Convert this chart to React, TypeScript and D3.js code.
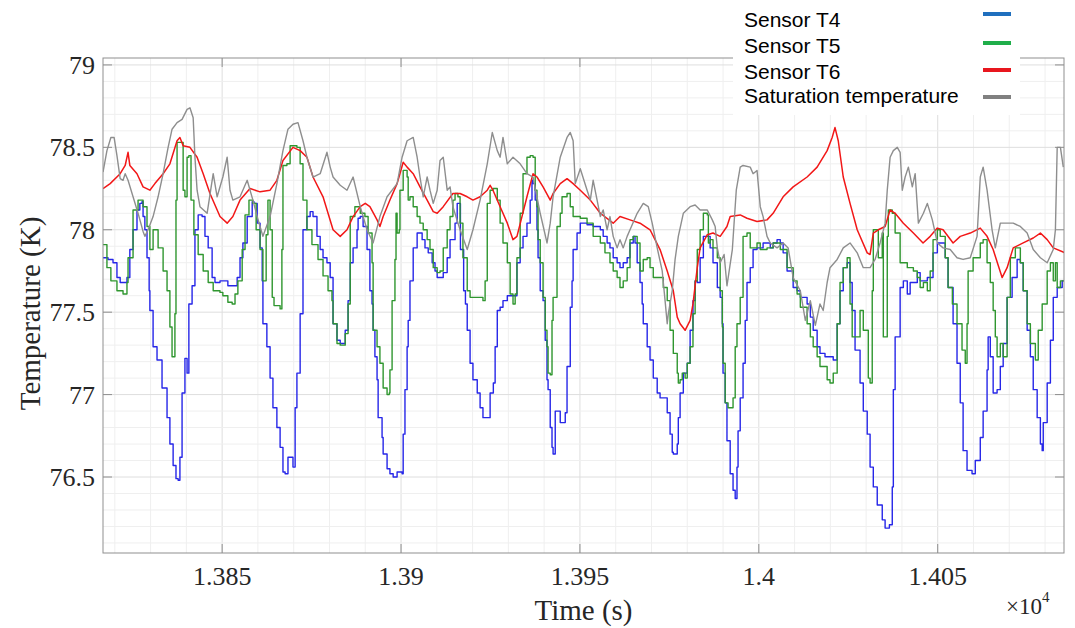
import React from 'react';
import * as d3 from 'd3';

const W = 1075, H = 628;
const xTicks = [13850, 13900, 13950, 14000, 14050];
const xTickLabels = ['1.385', '1.39', '1.395', '1.4', '1.405'];
const yTicks = [76.5, 77, 77.5, 78, 78.5, 79];
const yTickLabels = ['76.5', '77', '77.5', '78', '78.5', '79'];
const seriesNames = ['Sensor T4', 'Sensor T5', 'Sensor T6', 'Saturation temperature'];
const legendColors = ['#1f6fbe', '#1fae4a', '#e8161e', '#808080'];
const lineColors = ['#2626e8', '#2f962f', '#f21717', '#8e8e8e'];

const sensorT4: [number, number][] = [[13816.7,77.83],[13818.1,77.82],[13819.5,77.80],[13820.6,77.71],[13821.5,77.68],[13823.4,77.71],[13824.2,77.88],[13825.1,78.00],[13826.2,78.12],[13827.0,78.16],[13827.6,78.17],[13827.9,78.08],[13828.4,78.00],[13829.0,77.83],[13829.6,77.63],[13829.8,77.51],[13830.7,77.29],[13831.8,77.21],[13833.2,77.04],[13834.6,76.86],[13835.4,76.70],[13836.3,76.57],[13837.1,76.49],[13837.7,76.48],[13838.2,76.62],[13838.8,77.01],[13839.6,77.22],[13840.2,77.13],[13840.7,77.55],[13841.6,77.66],[13842.4,78.00],[13843.3,78.09],[13844.4,78.08],[13845.2,77.96],[13846.1,77.89],[13847.2,77.71],[13848.0,77.68],[13849.4,77.69],[13851.6,77.66],[13854.2,77.71],[13855.0,77.83],[13855.8,77.92],[13857.0,78.08],[13858.4,78.17],[13858.9,78.16],[13859.8,78.04],[13860.6,77.89],[13861.2,77.69],[13861.4,77.43],[13862.5,77.29],[13863.4,77.10],[13864.2,76.92],[13865.3,76.80],[13866.2,76.68],[13867.0,76.53],[13867.6,76.52],[13868.4,76.62],[13869.5,76.62],[13869.8,76.56],[13870.4,76.92],[13870.9,77.13],[13871.8,77.49],[13872.6,78.00],[13873.7,78.08],[13874.6,78.11],[13875.4,78.08],[13876.5,77.96],[13877.4,77.88],[13878.2,77.83],[13879.3,77.80],[13880.2,77.71],[13881.0,77.43],[13882.1,77.33],[13883.0,77.31],[13884.4,77.39],[13885.2,77.57],[13885.8,77.80],[13886.6,77.89],[13887.7,78.00],[13888.0,78.07],[13888.6,78.08],[13889.4,78.02],[13890.5,77.88],[13891.3,77.63],[13891.9,77.55],[13892.2,77.39],[13892.7,77.23],[13893.3,77.09],[13893.6,76.86],[13894.7,76.74],[13895.0,76.64],[13896.1,76.55],[13896.9,76.52],[13897.8,76.50],[13898.9,76.53],[13900.3,76.52],[13900.6,76.76],[13901.1,77.03],[13901.7,77.29],[13902.0,77.45],[13902.5,77.69],[13903.4,77.89],[13904.5,77.98],[13905.3,77.98],[13905.9,77.94],[13906.7,77.89],[13907.6,77.86],[13908.7,77.80],[13909.5,77.75],[13910.1,77.71],[13910.9,77.71],[13911.8,77.74],[13912.9,77.83],[13913.7,77.94],[13915.1,78.04],[13915.7,78.16],[13916.6,77.88],[13917.5,77.63],[13918.0,77.55],[13918.5,77.39],[13919.3,77.19],[13920.1,77.09],[13921.3,77.01],[13922.1,76.92],[13922.9,76.86],[13924.1,76.86],[13924.9,77.01],[13925.8,77.07],[13926.3,77.29],[13926.9,77.51],[13927.7,77.53],[13928.5,77.57],[13929.7,77.60],[13931.3,77.60],[13932.4,77.80],[13933.3,77.89],[13934.1,77.96],[13935.2,78.04],[13936.1,78.18],[13936.6,78.30],[13936.9,78.28],[13937.5,78.18],[13938.0,78.00],[13938.3,77.83],[13938.9,77.63],[13939.7,77.57],[13940.3,77.33],[13940.8,77.09],[13941.1,77.03],[13941.7,76.80],[13942.2,76.68],[13942.5,76.64],[13943.1,76.90],[13943.9,76.90],[13944.5,76.83],[13945.3,76.83],[13945.9,76.89],[13946.4,77.17],[13947.3,77.53],[13947.8,77.69],[13948.1,77.88],[13949.2,77.98],[13950.1,78.04],[13952.0,78.03],[13953.7,78.02],[13955.7,78.00],[13956.5,77.96],[13957.6,77.92],[13958.4,77.89],[13959.3,77.83],[13960.4,77.80],[13961.2,77.77],[13962.1,77.80],[13963.2,77.83],[13964.0,77.92],[13964.9,77.96],[13965.4,77.92],[13966.0,77.80],[13966.8,77.68],[13967.4,77.55],[13967.7,77.43],[13968.8,77.29],[13969.6,77.21],[13970.5,77.10],[13971.6,77.01],[13972.4,76.98],[13973.8,76.98],[13974.4,76.89],[13975.2,76.76],[13975.8,76.65],[13976.1,76.64],[13977.2,76.70],[13977.5,76.86],[13978.0,77.01],[13978.9,77.13],[13980.0,77.19],[13980.8,77.39],[13981.6,77.57],[13982.2,77.69],[13982.8,77.68],[13983.6,77.83],[13984.5,77.96],[13985.6,77.96],[13986.4,77.89],[13987.2,77.80],[13988.4,77.65],[13989.2,77.59],[13989.8,77.43],[13990.0,77.13],[13990.6,76.95],[13991.1,76.72],[13992.0,76.52],[13992.8,76.42],[13993.4,76.37],[13993.9,76.56],[13994.2,76.78],[13994.8,76.98],[13995.6,77.19],[13996.2,77.45],[13996.7,77.68],[13997.6,77.77],[13998.4,77.88],[13999.5,77.89],[14001.2,77.92],[14003.2,77.89],[14004.0,77.92],[14005.1,77.94],[14006.0,77.92],[14006.8,77.86],[14007.9,77.75],[14009.6,77.65],[14010.7,77.63],[14011.6,77.59],[14013.5,77.55],[14014.4,77.47],[14015.2,77.39],[14016.3,77.29],[14017.1,77.25],[14018.5,77.23],[14020.8,77.21],[14021.9,77.43],[14022.7,77.63],[14023.6,77.77],[14024.7,77.80],[14025.5,77.68],[14026.1,77.51],[14026.9,77.27],[14028.3,77.07],[14029.2,76.90],[14030.3,76.76],[14031.1,76.56],[14032.0,76.44],[14033.1,76.33],[14034.5,76.24],[14035.3,76.19],[14036.5,76.21],[14037.3,76.44],[14037.6,77.03],[14038.1,77.35],[14039.5,77.65],[14040.4,77.69],[14041.5,77.61],[14042.3,77.68],[14044.3,77.74],[14045.1,77.69],[14047.1,77.71],[14048.7,77.86],[14049.9,77.92],[14050.7,77.92],[14052.1,77.83],[14052.9,77.65],[14054.3,77.43],[14055.4,77.19],[14056.3,76.95],[14057.1,76.66],[14058.2,76.54],[14059.6,76.52],[14060.5,76.60],[14061.9,76.74],[14062.7,76.90],[14063.8,77.15],[14064.1,77.35],[14064.7,77.23],[14065.5,77.01],[14066.6,77.03],[14067.5,77.17],[14068.3,77.31],[14069.4,77.59],[14070.8,77.71],[14072.2,77.82],[14073.1,77.80],[14073.9,77.63],[14075.0,77.39],[14075.9,77.23],[14076.7,77.03],[14077.8,76.86],[14078.7,76.70],[14079.2,76.66],[14079.5,76.83],[14080.6,77.07],[14081.5,77.33],[14082.3,77.59],[14083.4,77.65],[14084.8,77.69],[14085.6,77.71]];

const sensorT5: [number, number][] = [[13816.7,77.91],[13817.8,77.77],[13818.9,77.69],[13820.6,77.63],[13822.3,77.61],[13823.4,77.68],[13823.7,77.83],[13825.1,78.12],[13826.5,78.18],[13827.9,78.14],[13829.0,78.02],[13829.8,77.88],[13830.7,78.00],[13832.1,77.89],[13833.5,77.75],[13834.6,77.63],[13835.4,77.41],[13836.0,77.23],[13836.6,77.23],[13836.8,77.49],[13837.1,78.18],[13837.4,78.53],[13838.5,78.53],[13839.1,78.24],[13839.6,78.20],[13840.2,78.44],[13840.7,78.45],[13841.3,78.18],[13842.1,77.97],[13843.3,77.85],[13844.7,77.75],[13846.1,77.68],[13847.5,77.63],[13849.4,77.62],[13850.2,77.60],[13851.6,77.56],[13852.8,77.55],[13853.6,77.61],[13854.4,77.69],[13855.6,77.88],[13856.4,78.09],[13857.5,78.18],[13858.6,78.16],[13859.5,78.00],[13860.6,77.88],[13861.4,77.69],[13862.3,77.97],[13862.8,78.18],[13863.4,78.00],[13864.0,77.59],[13864.5,77.54],[13866.2,77.52],[13866.7,77.88],[13867.0,78.39],[13868.1,78.40],[13869.0,78.51],[13870.9,78.50],[13871.8,78.40],[13872.6,78.18],[13873.7,78.00],[13875.1,77.91],[13876.8,77.82],[13878.2,77.72],[13879.6,77.63],[13880.7,77.57],[13881.0,77.43],[13882.1,77.31],[13883.0,77.30],[13884.4,77.37],[13885.2,77.55],[13885.8,78.08],[13887.1,78.14],[13888.6,78.10],[13889.9,78.08],[13890.8,77.98],[13891.9,77.80],[13892.2,77.39],[13893.3,77.29],[13894.1,77.19],[13895.0,77.04],[13896.1,77.00],[13896.7,77.01],[13896.9,77.15],[13897.5,77.57],[13898.3,77.82],[13898.6,78.10],[13898.9,77.98],[13899.5,78.00],[13899.7,78.24],[13900.6,78.36],[13901.7,78.32],[13902.0,78.18],[13902.5,78.20],[13903.4,78.14],[13904.5,78.08],[13905.3,78.04],[13906.2,78.00],[13907.3,77.94],[13908.1,77.88],[13909.0,77.77],[13910.1,77.74],[13910.9,77.75],[13911.8,77.89],[13912.9,78.00],[13913.7,78.08],[13914.5,78.18],[13915.1,78.22],[13915.9,78.20],[13916.5,78.04],[13917.3,77.83],[13918.5,77.63],[13919.3,77.59],[13921.3,77.59],[13922.9,77.57],[13923.5,77.69],[13924.1,78.16],[13924.9,78.24],[13925.7,78.25],[13926.9,78.18],[13927.7,78.04],[13928.5,77.92],[13929.7,77.80],[13930.5,77.61],[13931.3,77.55],[13931.9,77.61],[13932.4,77.83],[13933.3,78.10],[13934.1,78.34],[13935.2,78.44],[13936.1,78.45],[13936.9,78.44],[13937.5,78.24],[13938.0,78.14],[13938.3,77.94],[13938.9,77.80],[13939.7,77.59],[13940.3,77.39],[13940.8,77.29],[13941.1,77.13],[13941.7,77.12],[13942.2,77.45],[13942.5,77.59],[13943.6,78.02],[13944.5,78.10],[13945.0,78.20],[13946.4,78.22],[13947.3,78.14],[13948.1,78.08],[13950.1,78.07],[13952.0,78.04],[13953.7,77.96],[13955.7,77.92],[13957.0,77.86],[13958.4,77.80],[13959.3,77.75],[13960.4,77.71],[13961.2,77.65],[13962.1,77.69],[13963.2,77.77],[13964.0,77.94],[13964.9,77.96],[13966.0,77.92],[13966.8,77.75],[13967.7,77.82],[13968.8,77.83],[13969.6,77.77],[13970.5,77.71],[13972.4,77.71],[13973.3,77.65],[13974.4,77.57],[13975.2,77.39],[13976.1,77.25],[13977.2,77.13],[13977.5,77.07],[13978.0,77.09],[13978.6,77.13],[13979.4,77.10],[13980.0,77.19],[13980.8,77.29],[13981.6,77.49],[13982.2,77.69],[13982.8,77.88],[13983.6,78.00],[13984.5,78.10],[13985.6,78.09],[13985.9,77.92],[13986.4,77.94],[13987.2,77.89],[13988.4,77.83],[13989.2,77.63],[13989.8,77.41],[13990.0,77.19],[13990.6,76.95],[13991.4,76.92],[13992.6,76.92],[13992.8,76.98],[13993.4,77.29],[13993.9,77.43],[13994.8,77.59],[13995.6,77.96],[13996.7,77.98],[13997.6,77.89],[13999.5,77.92],[14000.4,77.88],[14002.3,77.89],[14004.0,77.92],[14006.0,77.88],[14007.9,77.77],[14009.6,77.69],[14010.7,77.61],[14011.6,77.53],[14013.5,77.43],[14014.4,77.35],[14015.2,77.29],[14016.3,77.23],[14017.1,77.17],[14019.1,77.09],[14019.9,77.07],[14020.8,77.13],[14021.9,77.43],[14022.7,77.68],[14023.6,77.77],[14024.7,77.83],[14025.5,77.55],[14026.1,77.35],[14027.5,77.35],[14028.3,77.51],[14029.2,77.39],[14030.6,77.10],[14031.1,77.07],[14031.7,77.63],[14032.0,78.00],[14033.1,78.00],[14033.4,77.83],[14034.5,77.98],[14034.8,77.35],[14035.3,77.35],[14035.9,77.96],[14036.2,78.12],[14037.3,78.10],[14038.1,77.98],[14039.5,77.80],[14041.5,77.77],[14043.2,77.75],[14044.3,77.71],[14045.1,77.65],[14046.0,77.68],[14047.1,77.63],[14047.9,77.75],[14048.7,77.94],[14049.9,78.00],[14050.7,77.96],[14052.1,77.83],[14052.9,77.65],[14054.1,77.55],[14055.4,77.43],[14056.8,77.27],[14057.7,77.19],[14058.2,77.43],[14058.5,77.75],[14059.9,77.83],[14061.9,77.92],[14062.7,77.94],[14063.8,77.80],[14064.7,77.68],[14065.5,77.51],[14066.1,77.35],[14066.6,77.23],[14067.5,77.31],[14068.3,77.23],[14069.4,77.59],[14070.3,77.83],[14071.7,77.89],[14073.1,77.80],[14073.9,77.63],[14075.0,77.43],[14075.9,77.31],[14077.3,77.21],[14078.1,77.39],[14079.2,77.55],[14080.6,77.75],[14081.5,77.80],[14082.3,77.69],[14082.9,77.80],[14083.4,77.65],[14084.3,77.69],[14085.6,77.68]];

const sensorT6: [number, number][] = [[13816.7,78.25],[13818.7,78.28],[13821.5,78.34],[13822.9,78.39],[13823.7,78.47],[13824.2,78.39],[13826.2,78.34],[13827.9,78.26],[13829.8,78.24],[13831.2,78.28],[13833.5,78.34],[13835.4,78.40],[13837.4,78.54],[13838.2,78.56],[13839.1,78.51],[13841.0,78.50],[13843.0,78.44],[13844.7,78.34],[13846.6,78.22],[13849.4,78.08],[13851.4,78.04],[13853.0,78.08],[13855.0,78.18],[13857.8,78.25],[13860.6,78.23],[13863.4,78.24],[13865.3,78.30],[13867.0,78.42],[13869.8,78.50],[13871.8,78.48],[13873.7,78.44],[13875.4,78.32],[13878.2,78.20],[13881.0,78.00],[13883.0,77.96],[13884.9,78.00],[13886.6,78.08],[13888.6,78.14],[13890.0,78.16],[13891.3,78.14],[13893.3,78.06],[13894.1,78.02],[13895.0,78.08],[13896.9,78.18],[13898.9,78.28],[13899.7,78.34],[13900.6,78.41],[13901.7,78.38],[13903.4,78.34],[13905.3,78.26],[13907.3,78.18],[13909.0,78.11],[13910.1,78.10],[13911.8,78.14],[13914.5,78.22],[13916.5,78.22],[13918.5,78.20],[13920.1,78.18],[13922.1,78.20],[13924.1,78.24],[13924.9,78.27],[13925.7,78.24],[13927.7,78.14],[13929.7,78.04],[13931.3,77.94],[13932.4,77.96],[13933.8,78.08],[13935.2,78.20],[13936.9,78.34],[13938.0,78.32],[13939.7,78.26],[13941.7,78.18],[13942.5,78.22],[13944.5,78.28],[13946.4,78.31],[13948.1,78.28],[13950.1,78.24],[13952.9,78.18],[13955.7,78.10],[13959.3,78.04],[13961.2,78.08],[13964.0,78.06],[13966.8,78.04],[13969.6,78.00],[13972.4,77.88],[13974.4,77.75],[13976.1,77.63],[13977.2,77.47],[13978.0,77.43],[13979.4,77.39],[13980.8,77.45],[13981.6,77.55],[13982.8,77.77],[13983.6,77.89],[13985.6,77.97],[13987.2,77.98],[13989.2,77.96],[13991.1,78.02],[13992.0,78.08],[13994.8,78.09],[13996.7,78.07],[13999.5,78.05],[14002.3,78.06],[14004.0,78.10],[14006.8,78.20],[14009.6,78.26],[14013.5,78.32],[14016.3,78.38],[14019.1,78.48],[14020.5,78.56],[14021.3,78.62],[14022.2,78.54],[14023.6,78.32],[14025.5,78.16],[14027.5,78.00],[14030.3,77.86],[14031.1,77.85],[14032.0,77.98],[14033.4,78.00],[14035.3,78.02],[14036.7,78.12],[14038.1,78.10],[14040.4,78.04],[14043.2,77.98],[14045.9,77.92],[14047.9,77.96],[14049.9,78.01],[14051.5,78.00],[14054.3,77.92],[14056.3,77.96],[14059.1,77.98],[14061.9,78.01],[14063.8,77.96],[14065.5,77.88],[14068.0,77.71],[14069.4,77.77],[14071.1,77.89],[14073.9,77.92],[14076.7,77.95],[14078.7,77.98],[14080.6,77.94],[14082.3,77.89],[14085.6,77.86]];

const saturationTemp: [number, number][] = [[13816.7,78.35],[13817.8,78.48],[13818.9,78.56],[13819.8,78.56],[13820.6,78.45],[13821.5,78.31],[13822.3,78.30],[13822.9,78.34],[13823.7,78.30],[13825.1,78.20],[13826.5,78.10],[13827.9,77.99],[13828.4,77.96],[13829.3,78.00],[13830.7,78.08],[13832.1,78.20],[13833.5,78.34],[13834.9,78.50],[13836.0,78.61],[13837.4,78.65],[13838.8,78.67],[13840.2,78.73],[13841.0,78.74],[13841.9,78.68],[13842.4,78.44],[13843.0,78.24],[13843.8,78.14],[13845.8,78.10],[13847.5,78.34],[13848.6,78.20],[13850.2,78.32],[13851.4,78.44],[13852.2,78.24],[13853.0,78.18],[13855.0,78.20],[13857.0,78.30],[13858.6,78.18],[13859.8,78.08],[13860.6,78.02],[13861.4,77.96],[13863.4,78.08],[13865.3,78.28],[13867.0,78.48],[13868.4,78.61],[13869.8,78.64],[13871.2,78.65],[13872.6,78.54],[13873.7,78.44],[13875.4,78.32],[13877.4,78.34],[13879.3,78.47],[13880.2,78.38],[13881.0,78.32],[13883.0,78.27],[13884.9,78.24],[13886.6,78.32],[13888.6,78.14],[13890.5,78.00],[13892.2,77.92],[13894.1,78.08],[13896.1,78.20],[13898.9,78.28],[13900.3,78.44],[13901.7,78.54],[13903.4,78.56],[13904.5,78.44],[13905.3,78.32],[13906.2,78.20],[13907.3,78.32],[13908.1,78.24],[13909.0,78.16],[13910.1,78.24],[13910.9,78.42],[13911.8,78.44],[13912.9,78.24],[13913.7,78.26],[13914.5,78.14],[13916.5,78.00],[13918.5,77.88],[13920.1,78.00],[13922.1,78.18],[13924.1,78.40],[13925.5,78.59],[13926.9,78.48],[13927.7,78.44],[13928.5,78.56],[13929.7,78.40],[13931.3,78.44],[13933.3,78.40],[13935.2,78.34],[13936.9,78.32],[13938.9,78.10],[13940.8,77.92],[13941.7,78.04],[13942.5,78.20],[13944.5,78.44],[13946.4,78.56],[13947.3,78.59],[13948.1,78.54],[13948.7,78.28],[13950.1,78.37],[13952.0,78.24],[13952.9,78.18],[13953.7,78.30],[13954.8,78.18],[13955.7,78.08],[13956.5,78.12],[13957.6,78.00],[13958.4,78.08],[13959.3,77.96],[13960.4,77.89],[13961.2,77.94],[13962.1,77.89],[13963.2,77.96],[13964.0,78.00],[13966.0,78.10],[13967.7,78.16],[13969.1,78.14],[13970.2,78.04],[13971.6,77.89],[13973.0,77.75],[13973.8,77.57],[13974.4,77.43],[13974.7,77.49],[13975.8,77.63],[13976.6,77.82],[13977.5,77.96],[13978.9,78.10],[13980.8,78.14],[13982.2,78.15],[13983.6,78.12],[13985.6,78.12],[13987.0,78.06],[13987.8,78.02],[13988.4,77.89],[13989.2,77.80],[13990.3,77.85],[13991.1,77.66],[13992.6,77.88],[13993.7,78.24],[13994.8,78.38],[13995.6,78.39],[13997.6,78.38],[13998.4,78.34],[13999.5,78.36],[14000.4,78.14],[14001.2,78.08],[14002.3,77.96],[14003.2,77.92],[14005.1,77.89],[14006.8,77.92],[14008.2,77.89],[14009.6,77.71],[14011.6,77.63],[14013.0,77.45],[14014.4,77.57],[14015.8,77.42],[14017.1,77.55],[14018.0,77.51],[14019.1,77.68],[14019.9,77.77],[14021.9,77.82],[14023.6,77.89],[14025.5,77.92],[14027.5,77.86],[14029.2,77.77],[14031.1,77.77],[14032.5,77.82],[14033.9,77.92],[14035.3,78.04],[14035.9,78.24],[14036.7,78.44],[14037.6,78.48],[14038.7,78.50],[14039.5,78.47],[14040.1,78.24],[14040.9,78.32],[14041.8,78.38],[14042.9,78.26],[14043.7,78.34],[14044.6,78.04],[14046.0,78.10],[14047.1,78.16],[14048.5,78.06],[14049.9,77.92],[14051.5,77.89],[14053.5,77.88],[14055.4,77.83],[14057.1,77.82],[14059.1,77.83],[14061.0,77.96],[14061.9,78.32],[14062.7,78.38],[14063.8,78.24],[14065.2,78.00],[14066.1,77.89],[14067.5,78.04],[14069.4,78.04],[14071.1,78.04],[14073.1,78.02],[14075.0,77.98],[14076.7,77.88],[14078.7,77.83],[14080.6,77.80],[14082.3,77.88],[14082.9,78.00],[14083.4,78.50],[14084.3,78.50],[14085.1,78.38]];

const X0 = 103, X1 = 1064, Y0 = 58, Y1 = 553;
const xDomain: [number, number] = [13816.7, 14085.3];
const yDomain: [number, number] = [76.039, 79.042];

export default function App() {
  const x = d3.scaleLinear().domain(xDomain).range([X0, X1]);
  const y = d3.scaleLinear().domain(yDomain).range([Y1, Y0]);
  const minorX = d3.range(13820, 14085, 10);
  const minorY = d3.range(76.1, 79.04, 0.1);
  const stepLine = d3.line<[number, number]>().x(d => x(d[0])).y(d => y(d[1])).curve(d3.curveStepAfter);
  const plainLine = d3.line<[number, number]>().x(d => x(d[0])).y(d => y(d[1]));
  const serif = "'Liberation Serif', 'Times New Roman', serif";
  const sans = "'Liberation Sans', Arial, sans-serif";
  const axisColor = '#8f8f8f';
  const tickLen = 9;
  const legendSwatchY = [14, 43, 70, 97];
  const legendTextY = [27, 53, 79, 103];
  return (
    <svg width={W} height={H} style={{ position: 'absolute', left: 0, top: 0, background: '#fff' }}>
      <defs>
        <clipPath id="plotClip"><rect x={X0} y={Y0} width={X1 - X0} height={Y1 - Y0} /></clipPath>
      </defs>
      <rect x={0} y={0} width={W} height={H} fill="#fff" />
      <g>
        {minorX.map((t, i) => (
          <line key={'gx' + i} x1={x(t)} x2={x(t)} y1={Y0} y2={Y1} stroke={t % 50 === 0 ? '#dedede' : '#efefef'} strokeWidth={1} />
        ))}
        {minorY.map((v, i) => {
          const major = Math.abs(v * 2 - Math.round(v * 2)) < 1e-6;
          return <line key={'gy' + i} x1={X0} x2={X1} y1={y(v)} y2={y(v)} stroke={major ? '#dedede' : '#efefef'} strokeWidth={1} />;
        })}
      </g>
      <g clipPath="url(#plotClip)" fill="none" strokeLinejoin="round">
        <path d={stepLine(sensorT4) || ''} stroke={lineColors[0]} strokeWidth={1.4} />
        <path d={stepLine(sensorT5) || ''} stroke={lineColors[1]} strokeWidth={1.4} />
        <path d={plainLine(sensorT6) || ''} stroke={lineColors[2]} strokeWidth={1.5} />
        <path d={plainLine(saturationTemp) || ''} stroke={lineColors[3]} strokeWidth={1.4} />
      </g>
      <g stroke={axisColor} strokeWidth={1} fill="none">
        <rect x={X0} y={Y0} width={X1 - X0} height={Y1 - Y0} />
        {yTicks.map((v, i) => (
          <g key={'yt' + i}>
            <line x1={X0} x2={X0 + tickLen} y1={y(v)} y2={y(v)} />
            <line x1={X1} x2={X1 - tickLen} y1={y(v)} y2={y(v)} />
          </g>
        ))}
        {xTicks.map((t, i) => (
          <g key={'xt' + i}>
            <line x1={x(t)} x2={x(t)} y1={Y1} y2={Y1 - tickLen} />
            <line x1={x(t)} x2={x(t)} y1={Y0} y2={Y0 + tickLen} />
          </g>
        ))}
      </g>
      <g fontFamily={serif} fontSize={26} fill="#262626">
        {yTicks.map((v, i) => (
          <text key={'yl' + i} x={95} y={y(v)} dy="0.35em" textAnchor="end">{yTickLabels[i]}</text>
        ))}
        {xTicks.map((t, i) => (
          <text key={'xl' + i} x={x(t)} y={585} textAnchor="middle">{xTickLabels[i]}</text>
        ))}
        <text x={(X0 + X1) / 2} y={620} textAnchor="middle" fontSize={29}>Time (s)</text>
        <text transform={`translate(40,${(Y0 + Y1) / 2 + 8}) rotate(-90)`} textAnchor="middle" fontSize={29}>Temperature (K)</text>
        <text x={1006} y={614} fontSize={23}>×10<tspan dy={-12} fontSize={15}>4</tspan></text>
      </g>
      <g>
        <rect x={733} y={0} width={287} height={115} fill="#fff" />
        {seriesNames.map((n, i) => (
          <g key={'lg' + i}>
            <text x={744} y={legendTextY[i]} fontFamily={sans} fontSize={21} fill="#000">{n}</text>
            <line x1={983} x2={1011} y1={legendSwatchY[i]} y2={legendSwatchY[i]} stroke={legendColors[i]} strokeWidth={4} />
          </g>
        ))}
      </g>
    </svg>
  );
}
